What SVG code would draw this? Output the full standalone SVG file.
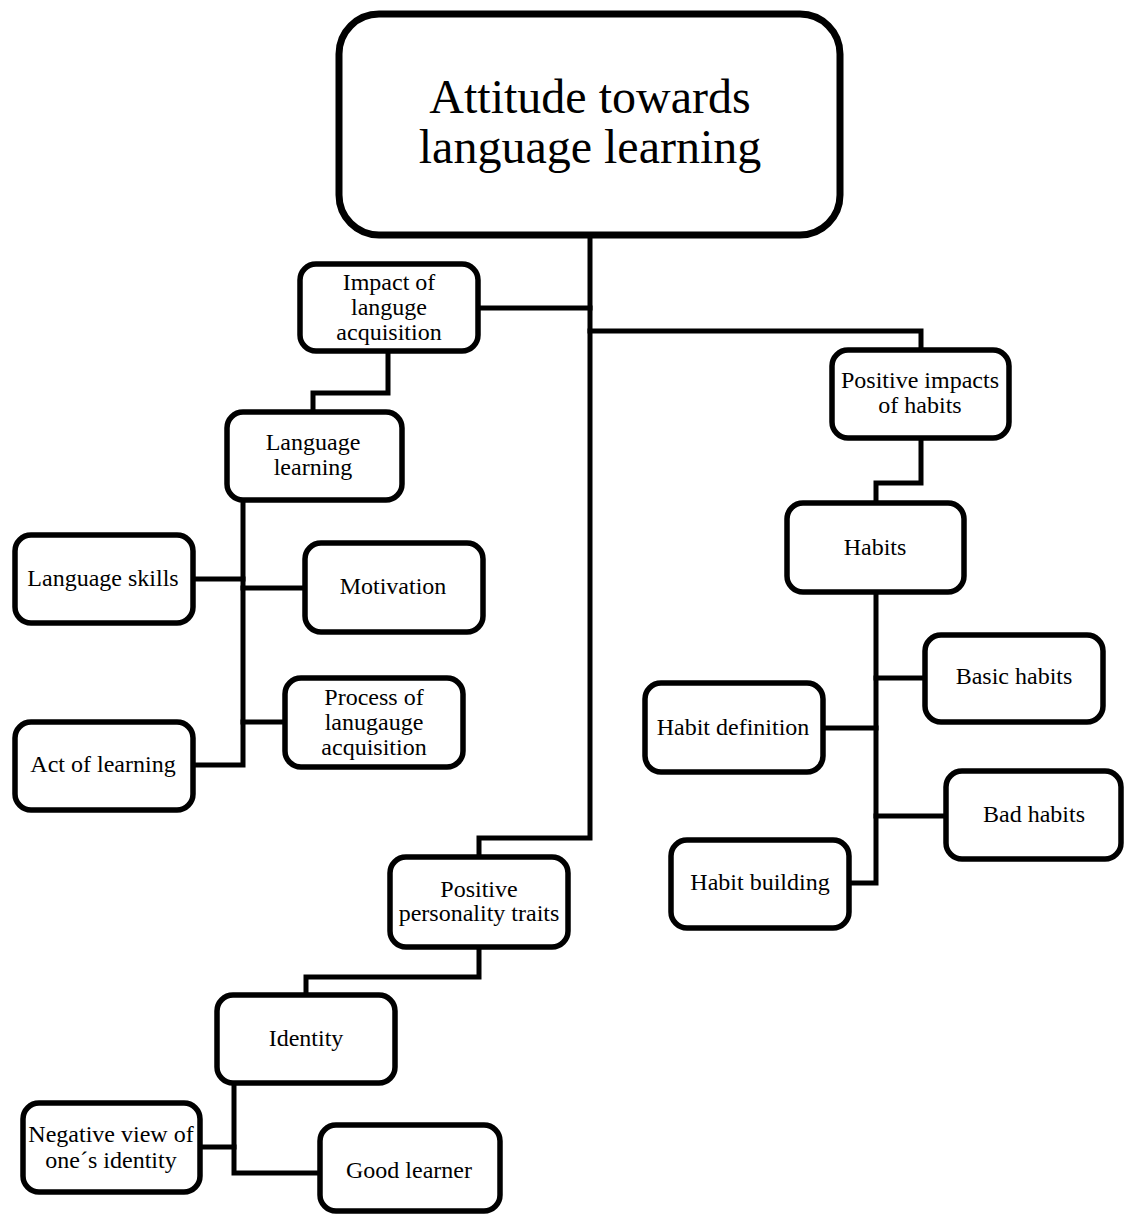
<svg xmlns="http://www.w3.org/2000/svg" width="1124" height="1214" viewBox="0 0 1124 1214">
<style>
.box{fill:#fff;stroke:#000;stroke-width:5.5}
.root{fill:#fff;stroke:#000;stroke-width:7}
.t{font-family:"Liberation Serif","Times New Roman",serif;font-size:24px;fill:#000;text-anchor:middle}
.big{font-family:"Liberation Serif","Times New Roman",serif;font-size:48px;fill:#000;text-anchor:middle}
.c{fill:none;stroke:#000;stroke-width:5;stroke-linejoin:miter;stroke-linecap:square}
</style>
<rect width="1124" height="1214" fill="#fff"/>
<g id="connectors">
<path class="c" d="M590,238 V838 H479 V857"/>
<path class="c" d="M478,308 H590"/>
<path class="c" d="M590,331 H921 V350"/>
<path class="c" d="M921,438 V483 H876 V503"/>
<path class="c" d="M876,592 V883 H850"/>
<path class="c" d="M876,678 H925"/>
<path class="c" d="M823,728 H876"/>
<path class="c" d="M876,816 H946"/>
<path class="c" d="M388,351 V393 H313 V412"/>
<path class="c" d="M243,500 V765 H193"/>
<path class="c" d="M193,579 H243"/>
<path class="c" d="M243,588 H305"/>
<path class="c" d="M243,722 H285"/>
<path class="c" d="M479,947 V977 H306 V995"/>
<path class="c" d="M234,1083 V1173 H320"/>
<path class="c" d="M200,1147 H234"/>
</g>
<g id="n-root"><rect class="root" x="339" y="14" width="501" height="221" rx="40"/>
<text class="big" x="590" y="113">Attitude towards</text><text class="big" x="590" y="163">language learning</text></g>
<g id="n-impact"><rect class="box" x="300" y="264" width="178" height="87" rx="16"/>
<text class="t" x="389" y="290">Impact of</text><text class="t" x="389" y="315">languge</text><text class="t" x="389" y="340">acquisition</text></g>
<g id="n-langlearn"><rect class="box" x="227" y="412" width="175" height="88" rx="16"/>
<text class="t" x="313" y="450">Language</text><text class="t" x="313" y="475">learning</text></g>
<g id="n-skills"><rect class="box" x="15" y="535" width="178" height="88" rx="16"/>
<text class="t" x="103" y="586">Language skills</text></g>
<g id="n-motivation"><rect class="box" x="305" y="543" width="178" height="89" rx="16"/>
<text class="t" x="393" y="594">Motivation</text></g>
<g id="n-process"><rect class="box" x="285" y="678" width="178" height="89" rx="16"/>
<text class="t" x="374" y="705">Process of</text><text class="t" x="374" y="730">lanugauge</text><text class="t" x="374" y="755">acquisition</text></g>
<g id="n-act"><rect class="box" x="15" y="722" width="178" height="88" rx="16"/>
<text class="t" x="103" y="772">Act of learning</text></g>
<g id="n-posimpacts"><rect class="box" x="832" y="350" width="177" height="88" rx="16"/>
<text class="t" x="920" y="388">Positive impacts</text><text class="t" x="920" y="413">of habits</text></g>
<g id="n-habits"><rect class="box" x="787" y="503" width="177" height="89" rx="16"/>
<text class="t" x="875" y="555">Habits</text></g>
<g id="n-basic"><rect class="box" x="925" y="635" width="178" height="87" rx="16"/>
<text class="t" x="1014" y="684">Basic habits</text></g>
<g id="n-def"><rect class="box" x="645" y="683" width="178" height="89" rx="16"/>
<text class="t" x="733" y="735">Habit definition</text></g>
<g id="n-bad"><rect class="box" x="946" y="771" width="175" height="88" rx="16"/>
<text class="t" x="1034" y="822">Bad habits</text></g>
<g id="n-building"><rect class="box" x="671" y="840" width="178" height="88" rx="16"/>
<text class="t" x="760" y="890">Habit building</text></g>
<g id="n-traits"><rect class="box" x="390" y="857" width="178" height="90" rx="16"/>
<text class="t" x="479" y="897">Positive</text><text class="t" x="479" y="921">personality traits</text></g>
<g id="n-identity"><rect class="box" x="217" y="995" width="178" height="88" rx="16"/>
<text class="t" x="306" y="1046">Identity</text></g>
<g id="n-negative"><rect class="box" x="23" y="1103" width="177" height="89" rx="16"/>
<text class="t" x="111" y="1142">Negative view of</text><text class="t" x="111" y="1168">one´s identity</text></g>
<g id="n-good"><rect class="box" x="320" y="1125" width="180" height="86" rx="16"/>
<text class="t" x="409" y="1178">Good learner</text></g>
</svg>
